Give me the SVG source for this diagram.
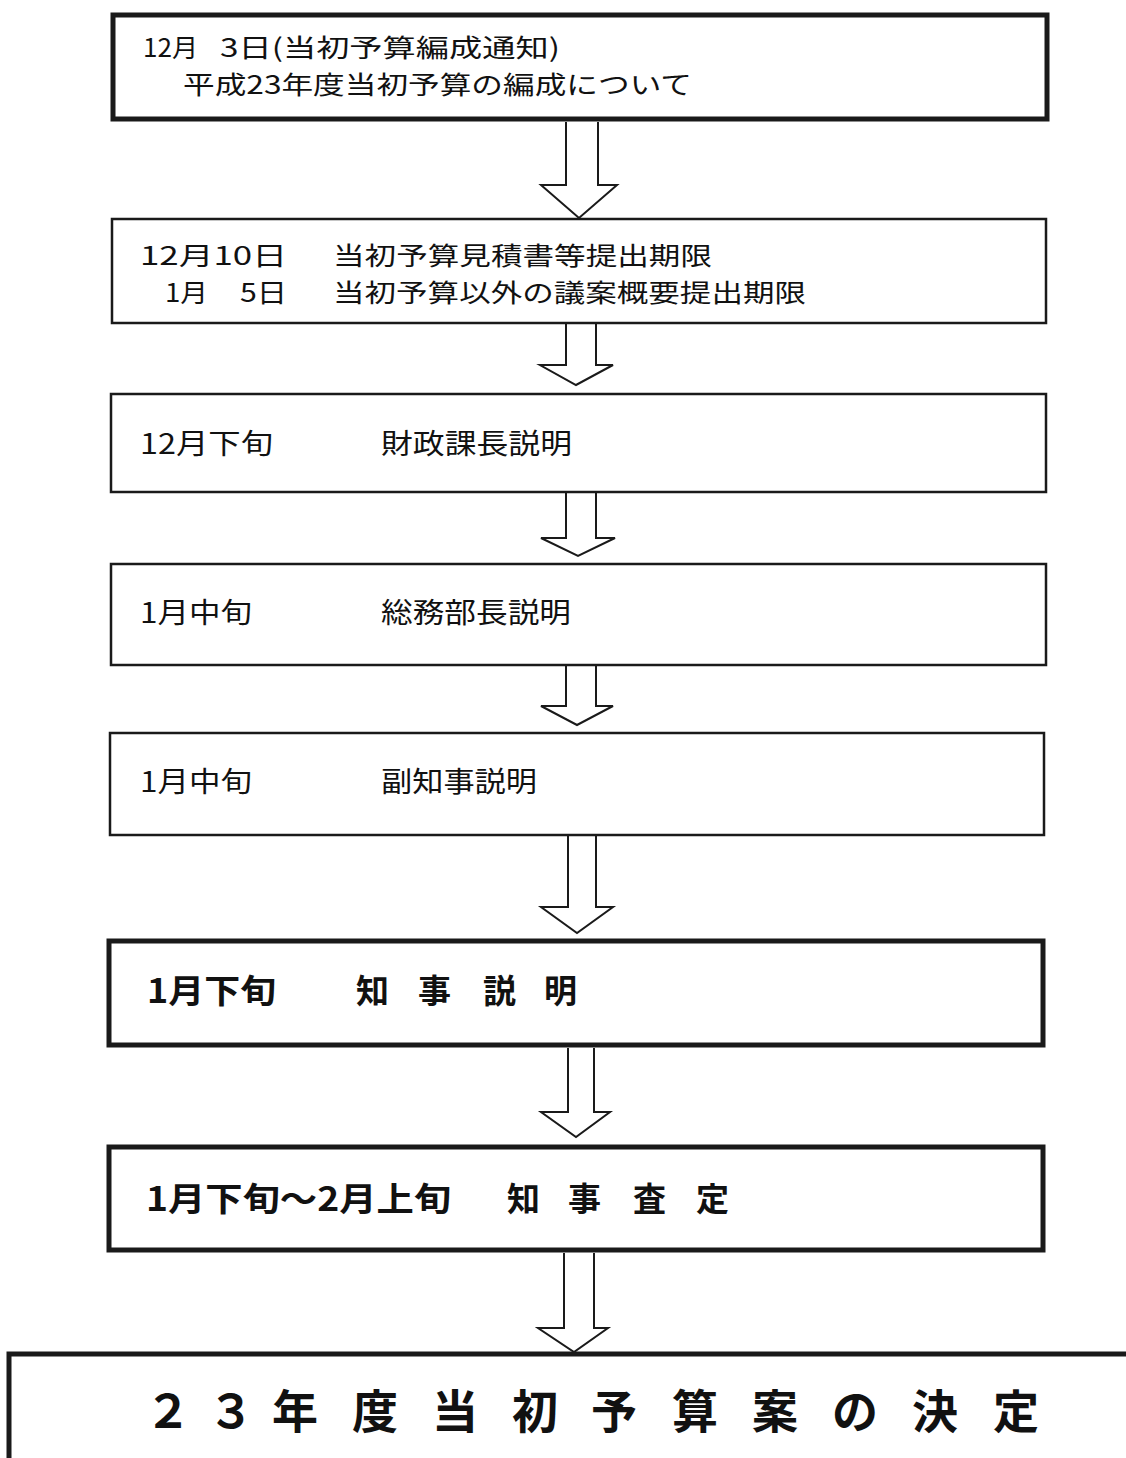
<svg xmlns="http://www.w3.org/2000/svg" width="1126" height="1458" viewBox="0 0 1126 1458">
<style>
.box{fill:#fff;stroke:#1a1a1a;stroke-width:2.5}
.thick{stroke-width:5}
.arrow{fill:#fff;stroke:#1a1a1a;stroke-width:2}
text{font-family:"Noto Sans CJK JP","Liberation Sans",sans-serif;fill:#111}
.t{font-size:28px}
.s{font-size:25.5px}
.b{font-size:33px;font-weight:bold}
.big{font-size:46px;font-weight:bold}
</style>
<rect width="1126" height="1458" fill="#fff"/>
<g id="connectors">
<path class="arrow" d="M566,122 V185 H541 L579,218 L617,185 H598 V122"/>
<path class="arrow" d="M566,324 V365 H540 L576,385 L613,365 H596 V324"/>
<path class="arrow" d="M566,493 V538 H541 L578,556 L615,538 H596 V493"/>
<path class="arrow" d="M566,666 V706 H541 L577,725 L613,706 H596 V666"/>
<path class="arrow" d="M568,836 V907 H541 L577,933 L613,907 H596 V836"/>
<path class="arrow" d="M568,1048 V1112 H541 L576,1137 L610,1112 H594 V1048"/>
<path class="arrow" d="M564,1253 V1328 H538 L574,1352 L608,1328 H594 V1253"/>
</g>
<g id="node1">
<rect class="box thick" x="113" y="15" width="934" height="104"/>
<text class="s" x="143" y="57" textLength="55" lengthAdjust="spacingAndGlyphs">12月</text>
<text class="s" x="220" y="57" textLength="340" lengthAdjust="spacingAndGlyphs">3日(当初予算編成通知)</text>
<text class="s" x="183" y="94" textLength="509" lengthAdjust="spacingAndGlyphs">平成23年度当初予算の編成について</text>
</g>
<g id="node2">
<rect class="box" x="112" y="219" width="934" height="104"/>
<text class="s" x="140" y="265" textLength="147" lengthAdjust="spacingAndGlyphs">12月10日</text>
<text class="s" x="333" y="265" textLength="379" lengthAdjust="spacingAndGlyphs">当初予算見積書等提出期限</text>
<text class="s" x="165" y="302" textLength="43" lengthAdjust="spacingAndGlyphs">1月</text>
<text class="s" x="240" y="302" textLength="47" lengthAdjust="spacingAndGlyphs">5日</text>
<text class="s" x="333" y="302" textLength="473" lengthAdjust="spacingAndGlyphs">当初予算以外の議案概要提出期限</text>
</g>
<g id="node3">
<rect class="box" x="111" y="394" width="935" height="98"/>
<text class="t" x="140" y="454" textLength="133" lengthAdjust="spacingAndGlyphs">12月下旬</text>
<text class="t" x="381" y="454" textLength="191" lengthAdjust="spacingAndGlyphs">財政課長説明</text>
</g>
<g id="node4">
<rect class="box" x="111" y="564" width="935" height="101"/>
<text class="t" x="140" y="623" textLength="112" lengthAdjust="spacingAndGlyphs">1月中旬</text>
<text class="t" x="381" y="623" textLength="190" lengthAdjust="spacingAndGlyphs">総務部長説明</text>
</g>
<g id="node5">
<rect class="box" x="110" y="733" width="934" height="102"/>
<text class="t" x="140" y="792" textLength="112" lengthAdjust="spacingAndGlyphs">1月中旬</text>
<text class="t" x="381" y="792" textLength="156" lengthAdjust="spacingAndGlyphs">副知事説明</text>
</g>
<g id="node6">
<rect class="box thick" x="109" y="941" width="934" height="104"/>
<text class="b" x="147" y="1003" textLength="129" lengthAdjust="spacingAndGlyphs">1月下旬</text>
<text class="b" x="356 418 483 544" y="1003">知事説明</text>
</g>
<g id="node7">
<rect class="box thick" x="109" y="1147" width="934" height="103"/>
<text class="b" x="146" y="1211" textLength="305" lengthAdjust="spacingAndGlyphs">1月下旬～2月上旬</text>
<text class="b" x="507 568 633 696" y="1211">知事査定</text>
</g>
<g id="node8">
<rect class="box thick" x="9" y="1354" width="1130" height="110"/>
<text class="big" x="145 208 272 352 432 512 591 672 752 832 912 993" y="1428">２３年度当初予算案の決定</text>
</g>
</svg>
